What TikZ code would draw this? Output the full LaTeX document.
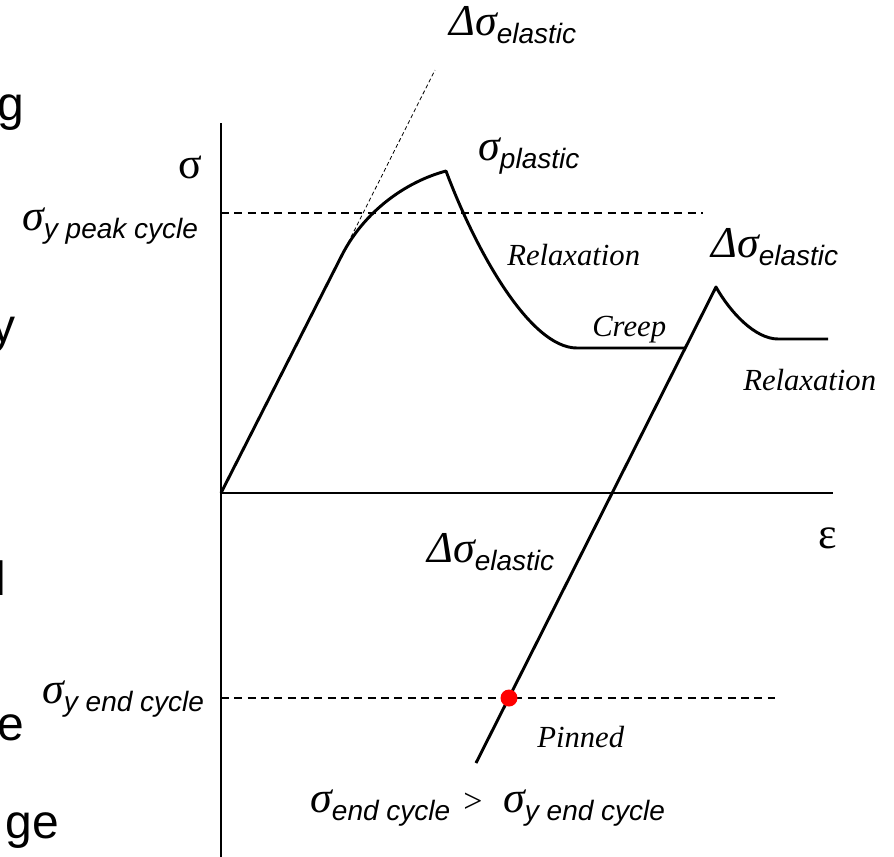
\documentclass[tikz,border=0pt]{standalone}
\usepackage{fontspec}
\setmainfont{Liberation Serif}
\setsansfont{Liberation Sans}
\newcommand{\lbl}[2]{{\fontsize{33}{34}\selectfont\itshape #1}\raisebox{-6.5pt}{\fontsize{21}{22}\selectfont\sffamily\itshape #2}}
\begin{document}
\begin{tikzpicture}[x=0.75pt,y=-0.75pt,
  axis/.style={line width=2pt},
  curve/.style={line width=2.2pt, line join=round},
  dashline/.style={line width=1.5pt, dash pattern=on 6pt off 4pt},
  tangent/.style={line width=0.6pt, dash pattern=on 3pt off 2pt},
  lab/.style={inner sep=0pt, anchor=base west},
  word/.style={inner sep=0pt, anchor=base west, font=\fontsize{23}{24}\selectfont\itshape},
  cut/.style={inner sep=0pt, anchor=base east, font=\fontsize{36}{36}\selectfont\sffamily},
  axlab/.style={inner sep=0pt, anchor=base, font=\fontsize{33}{33}\selectfont}]
\useasboundingbox (0,0) rectangle (894,857);
% key points
\coordinate (ytop) at (221,123);
\coordinate (ybot) at (221,857);
\coordinate (O) at (221,493);
\coordinate (xend) at (833,493);
\coordinate (K1) at (342,255);
\coordinate (P1) at (446,171);
\coordinate (R1) at (577,348);
\coordinate (C1) at (685,348);
\coordinate (P2) at (716,287);
\coordinate (R2) at (778,339);
\coordinate (E2) at (828,339);
\coordinate (B) at (476,763);
\coordinate (T) at (435,70);
\coordinate (dt1) at (221,213);
\coordinate (dt2) at (703,213);
\coordinate (db1) at (221,698);
\coordinate (db2) at (775,698);
% axes
\draw[axis] (ytop) -- (ybot);
\draw[axis] (O) -- (xend);
% dashed levels
\draw[dashline] (dt1) -- (dt2);
\draw[dashline] (db1) -- (db2);
% tangent
\draw[tangent] (K1) -- (T);
% curves
\draw[curve] (O) -- (K1) .. controls (364,212) and (405,182) .. (P1)
  .. controls (476,251) and (530,348) .. (R1) -- (C1);
\draw[curve] (B) -- (P2) .. controls (730,312) and (755,339) .. (R2) -- (E2);
% pinned dot
\node[circle, fill=red, minimum size=12.75pt, inner sep=0pt] (pin) at (509,698) {};
% labels
\node[lab] (dtop) at (449,35) {\lbl{Δσ}{elastic}};
\node[lab] (splast) at (478,160) {\lbl{σ}{plastic}};
\node[lab] (speak) at (22,230) {\lbl{σ}{y peak cycle}};
\node[lab] (dright) at (711,257) {\lbl{Δσ}{elastic}};
\node[lab] (dlow) at (427,562) {\lbl{Δσ}{elastic}};
\node[lab] (send) at (42,703) {\lbl{σ}{y end cycle}};
\node[lab] (bend) at (310,812) {\lbl{σ}{end cycle}};
\node[lab, font=\fontsize{25.5}{26}\selectfont] (gt) at (463,812) {>};
\node[lab] (byend) at (503,812) {\lbl{σ}{y end cycle}};
\node[word] (relax1) at (507,265) {Relaxation};
\node[word] (creep) at (592,336) {Creep};
\node[word] (relax2) at (743,390) {Relaxation};
\node[word] (pinned) at (537,747) {Pinned};
\node[axlab] (sig) at (190,178) {σ};
\node[axlab] (eps) at (828,548) {ε};
% cut-off text at the left edge
\node[cut] (c1) at (24,120) {g};
\node[cut] (c2) at (16,342) {y};
\node[cut] (c3) at (6,595) {l};
\node[cut] (c4) at (24,740) {e};
\node[cut] (c5) at (59,838) {ge};
\end{tikzpicture}
\end{document}
